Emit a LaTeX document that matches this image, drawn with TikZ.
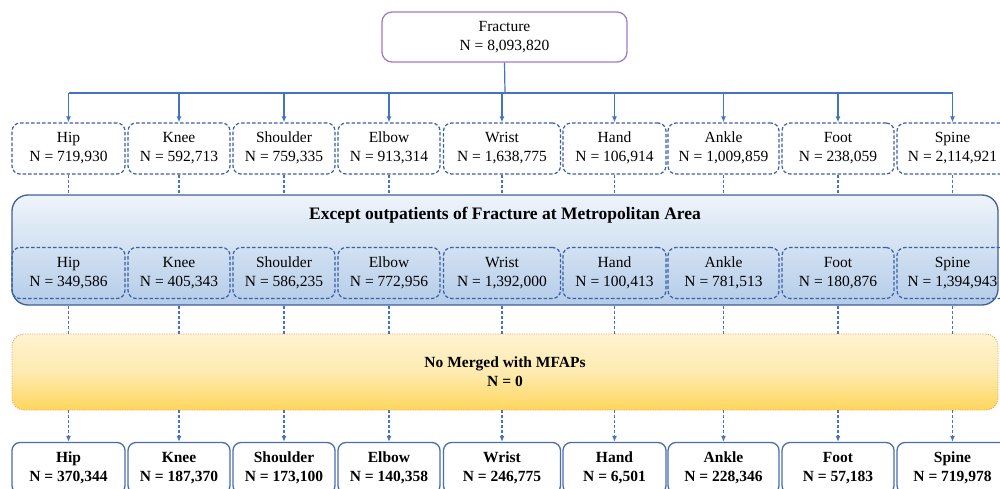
\documentclass[tikz,border=0pt]{standalone}
\usepackage{fontspec}
\setmainfont{Liberation Serif}
\usetikzlibrary{arrows.meta}
\definecolor{conn}{HTML}{4472C4}
\definecolor{dbox}{HTML}{3A5FA6}
\definecolor{sbox}{HTML}{4A6DB0}
\definecolor{purp}{HTML}{A678C8}
\definecolor{bigb}{HTML}{3F5F9A}
\definecolor{btop}{HTML}{EEF4FB}
\definecolor{bbot}{HTML}{B4CCE8}
\definecolor{otop}{HTML}{FFF3D2}
\definecolor{omid}{HTML}{FEEBB0}
\definecolor{obot}{HTML}{FFD65C}
\definecolor{oline}{HTML}{F4A868}
\tikzset{
  x=1pt, y=-1pt,
  txt/.style={font=\fontsize{15.5}{19}\selectfont, align=center},
  dbx/.style={txt, draw=dbox, rounded corners=8pt, line width=1.2pt, dash pattern=on 3.5pt off 2pt, minimum height=51pt, inner sep=0pt},
  sbx/.style={txt, draw=sbox, rounded corners=8pt, line width=1.3pt, minimum height=51pt, inner sep=0pt, fill=white},
  cline/.style={draw=conn, line width=1.2pt},
  carrow/.style={cline, -{Latex[length=6pt,width=5pt]}},
  dline/.style={draw=conn, line width=1.1pt, dash pattern=on 3pt off 2pt},
  darrow/.style={dline, -{Latex[length=6pt,width=5pt]}},
}
\begin{document}
\begin{tikzpicture}
\useasboundingbox (0,0) rectangle (1000,489);
% top node
\node[txt, draw=purp, line width=1.3pt, rounded corners=10pt, minimum width=245pt, minimum height=50pt, inner sep=0pt] (frac) at (504.5,37) {Fracture\strut\\N = 8,093,820\strut};
% big blue box
\node[draw=bigb, line width=1.3pt, rounded corners=16pt, top color=btop, bottom color=bbot, minimum width=986pt, minimum height=110pt, inner sep=0pt] (ex) at (505,250) {};
\node[font=\fontsize{17.5}{21}\selectfont\bfseries] (extitle) at (505,215) {Except outpatients of Fracture at Metropolitan Area};
% orange box
\node[draw=oline, line width=0.9pt, dash pattern=on 1.2pt off 1.2pt, rounded corners=12pt, top color=otop, bottom color=obot, middle color=omid, minimum width=986pt, minimum height=76pt, inner sep=0pt] (mf) at (505,372) {};
\node[txt, font=\fontsize{15.5}{19}\selectfont\bfseries] (mftitle) at (505,373) {No Merged with MFAPs\strut\\N = 0\strut};
\coordinate (bus) at (505,93);
\foreach \nm/\cx/\w/\lab/\na/\nb/\nc in {
  hip/68.5/113/Hip/719{,}930/349{,}586/370{,}344,
  knee/179/102/Knee/592{,}713/405{,}343/187{,}370,
  shoulder/284/102/Shoulder/759{,}335/586{,}235/173{,}100,
  elbow/389/102/Elbow/913{,}314/772{,}956/140{,}358,
  wrist/502/117/Wrist/1{,}638{,}775/1{,}392{,}000/246{,}775,
  hand/614.5/103/Hand/106{,}914/100{,}413/6{,}501,
  ankle/723.5/111/Ankle/1{,}009{,}859/781{,}513/228{,}346,
  foot/838/112/Foot/238{,}059/180{,}876/57{,}183,
  spine/952.5/111/Spine/2{,}114{,}921/1{,}394{,}943/719{,}978}{
  \node[dbx, minimum width=\w pt] (a-\nm) at (\cx,148.5) {\lab\strut\\N = \na\strut};
  \node[dbx, minimum width=\w pt] (b-\nm) at (\cx,273) {\lab\strut\\N = \nb\strut};
  \node[sbx, minimum width=\w pt, font=\fontsize{15.5}{19}\selectfont\bfseries] (c-\nm) at (\cx,468) {\lab\strut\\N = \nc\strut};
  \draw[carrow] (a-\nm.north |- bus) -- (a-\nm.north);
  \draw[dline] (a-\nm.south) -- (a-\nm.south |- ex.north);
  \draw[dline] (b-\nm.south |- ex.south) -- (b-\nm.south |- mf.north);
  \draw[darrow] (c-\nm.north |- mf.south) -- (c-\nm.north);
}
\draw[cline] (frac.south) -- (bus);
\draw[cline] (a-hip.north |- bus) -- (a-spine.north |- bus);
\end{tikzpicture}
\end{document}
